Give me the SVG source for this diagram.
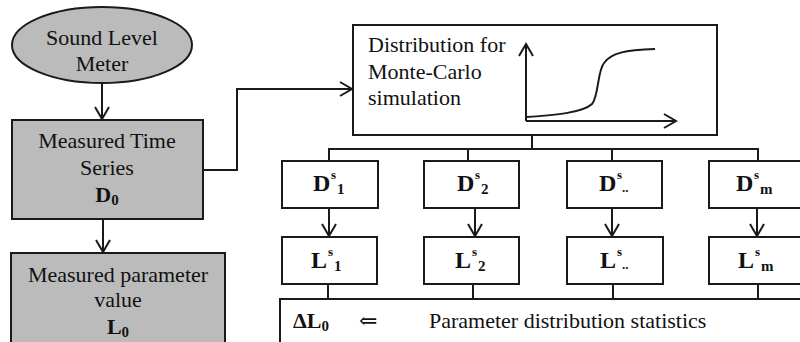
<svg xmlns="http://www.w3.org/2000/svg" width="800" height="342" viewBox="0 0 800 342">
<defs>
<style>
.box{fill:#fff;stroke:#1a1a1a;stroke-width:2}
.gray{fill:#bbbbbb;stroke:#1a1a1a;stroke-width:2}
.ln{fill:none;stroke:#1a1a1a;stroke-width:2}
.t{font-family:"Liberation Serif","DejaVu Serif",serif;font-size:22px;fill:#111}
.c{text-anchor:middle}
.b{font-weight:bold}
.lab{font-family:"Liberation Serif","DejaVu Serif",serif;font-weight:bold;fill:#111}
</style>
<marker id="ah" viewBox="-14 -9 16 18" refX="0" refY="0" markerWidth="16" markerHeight="18" markerUnits="userSpaceOnUse" orient="auto" overflow="visible">
<path d="M-12,-7 L0,0 L-12,7" fill="none" stroke="#1a1a1a" stroke-width="2"/>
</marker>
</defs>
<rect width="800" height="342" fill="#fff"/>

<g id="connectors">
<path class="ln" d="M102,83 V119" marker-end="url(#ah)"/>
<path class="ln" d="M103,219 V252" marker-end="url(#ah)"/>
<path class="ln" d="M203,170 H237 V89 H352" marker-end="url(#ah)"/>
<path class="ln" d="M532,135 V149 M329,160 V149 H758 V160 M468,149 V160 M612,149 V160"/>
<path class="ln" d="M329,208 V236" marker-end="url(#ah)"/>
<path class="ln" d="M475,208 V236" stroke-width="1.3" marker-end="url(#ah)"/>
<path class="ln" d="M612,208 V236" marker-end="url(#ah)"/>
<path class="ln" d="M757,208 V236" marker-end="url(#ah)"/>
<path class="ln" d="M328,284 V299 M473,284 V299 M613,284 V299 M758,284 V299"/>
</g>

<g id="sound-level-meter">
<ellipse class="gray" cx="102" cy="45" rx="90" ry="38"/>
<text class="t c" x="102" y="45">Sound Level</text>
<text class="t c" x="102" y="71">Meter</text>
</g>

<g id="measured-time-series">
<rect class="gray" x="12" y="120" width="191" height="99"/>
<text class="t c" x="107" y="148">Measured Time</text>
<text class="t c" x="107" y="175">Series</text>
<text class="t c" x="107" y="202"><tspan class="b">D</tspan><tspan class="b" font-size="15" dy="3">0</tspan></text>
</g>

<g id="measured-parameter">
<rect class="gray" x="11" y="253" width="214" height="100"/>
<text class="t c" x="118" y="282">Measured parameter</text>
<text class="t c" x="118" y="307">value</text>
<text class="t c" x="118" y="334"><tspan class="b">L</tspan><tspan class="b" font-size="15" dy="3">0</tspan></text>
</g>

<g id="distribution">
<rect class="box" x="353" y="25" width="364" height="110"/>
<text class="t" x="368" y="52">Distribution for</text>
<text class="t" x="368" y="79">Monte-Carlo</text>
<text class="t" x="368" y="105">simulation</text>
<path class="ln" d="M526,121 V44" marker-end="url(#ah)"/>
<path class="ln" d="M526,121 H676" marker-end="url(#ah)"/>
<path class="ln" d="M526,117 C555,115 582,113 592,104 C599,96 597,72 604,63 C611,53 625,50 655,49"/>
</g>

<g id="d1">
<rect class="box" x="282" y="161" width="96" height="47"/>
<text class="lab" x="313" y="191" font-size="24">D</text>
<text class="lab" x="331" y="179" font-size="13">s</text>
<text class="lab" x="337" y="194" font-size="15">1</text>
</g>
<g id="d2">
<rect class="box" x="424" y="161" width="95" height="47"/>
<text class="lab" x="457" y="191" font-size="24">D</text>
<text class="lab" x="475" y="179" font-size="13">s</text>
<text class="lab" x="481" y="194" font-size="15">2</text>
</g>
<g id="d3">
<rect class="box" x="567" y="161" width="95" height="47"/>
<text class="lab" x="599" y="191" font-size="24">D</text>
<text class="lab" x="617" y="179" font-size="13">s</text>
<text class="lab" x="622" y="192" font-size="13">..</text>
</g>
<g id="dm">
<rect class="box" x="709" y="161" width="100" height="47"/>
<text class="lab" x="736" y="191" font-size="24">D</text>
<text class="lab" x="754" y="179" font-size="13">s</text>
<text class="lab" x="760" y="194" font-size="15">m</text>
</g>

<g id="l1">
<rect class="box" x="282" y="237" width="95" height="47"/>
<text class="lab" x="311" y="268" font-size="24">L</text>
<text class="lab" x="328" y="256" font-size="13">s</text>
<text class="lab" x="334" y="271" font-size="15">1</text>
</g>
<g id="l2">
<rect class="box" x="424" y="237" width="95" height="47"/>
<text class="lab" x="455" y="268" font-size="24">L</text>
<text class="lab" x="472" y="256" font-size="13">s</text>
<text class="lab" x="478" y="271" font-size="15">2</text>
</g>
<g id="l3">
<rect class="box" x="567" y="237" width="96" height="47"/>
<text class="lab" x="600" y="268" font-size="24">L</text>
<text class="lab" x="617" y="256" font-size="13">s</text>
<text class="lab" x="622" y="269" font-size="13">..</text>
</g>
<g id="lm">
<rect class="box" x="709" y="237" width="100" height="47"/>
<text class="lab" x="738" y="268" font-size="24">L</text>
<text class="lab" x="755" y="256" font-size="13">s</text>
<text class="lab" x="761" y="271" font-size="15">m</text>
</g>

<g id="statistics">
<rect class="box" x="280" y="299" width="540" height="60"/>
<text class="t" x="293" y="328"><tspan class="b">ΔL</tspan><tspan class="b" font-size="15" dy="3">0</tspan></text>
<text class="t" x="359" y="328" font-size="24">⇐</text>
<text class="t" x="429" y="328">Parameter distribution statistics</text>
</g>
</svg>
